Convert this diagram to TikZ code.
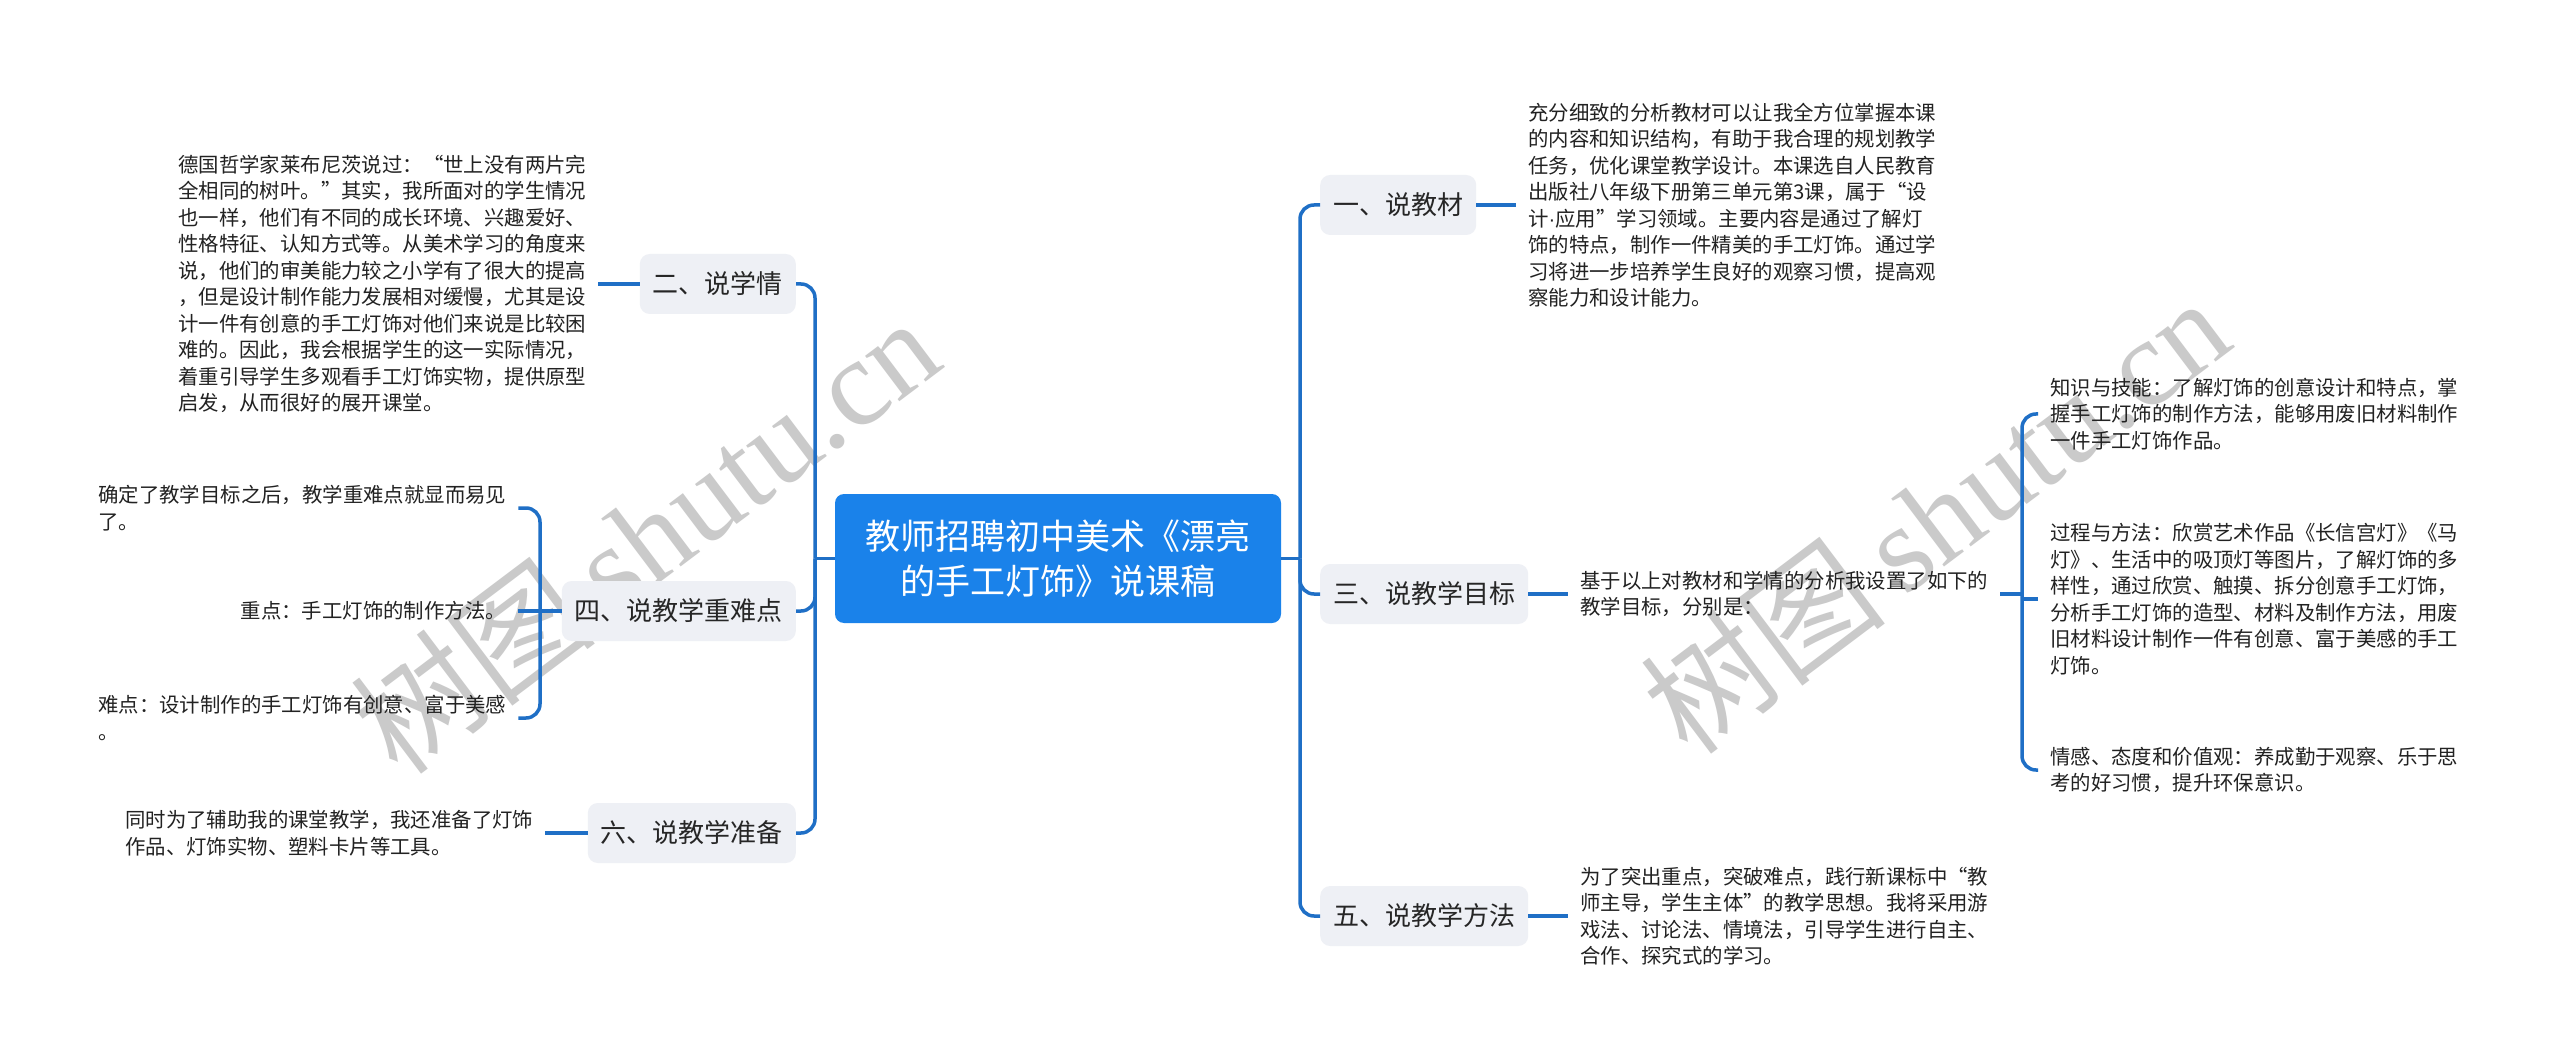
\documentclass[tikz,border=0pt]{standalone}
\usepackage{fontspec}
\setmainfont{Noto Sans CJK SC}
\newfontfamily\wmserif{Liberation Serif}
\newfontfamily\latinfont{Liberation Sans}
\usetikzlibrary{calc}
\definecolor{lineblue}{HTML}{1F6FC6}
\definecolor{rootblue}{HTML}{1A82EA}
\definecolor{boxgray}{HTML}{EEF0F5}
\definecolor{txt}{HTML}{222222}
\definecolor{wmgray}{HTML}{CACACA}
\begin{document}
\begin{tikzpicture}[x=1pt,y=-1pt,
 conn/.style={draw=lineblue,line width=3.5pt,rounded corners=14pt},
 rootbox/.style={fill=rootblue,rounded corners=9pt,text=white,minimum width=446pt,minimum height=129pt,align=center,font=\fontsize{35}{45}\selectfont,inner sep=0pt},
 topic/.style={fill=boxgray,rounded corners=10pt,text=black!85,minimum height=60pt,inner xsep=13pt,inner ysep=0pt,font=\fontsize{26}{30}\selectfont},
 leaf/.style={align=left,inner xsep=12pt,inner ysep=2pt,text=txt,font=\fontsize{20.4}{26.5}\selectfont},
 wm/.style={rotate=37,text=wmgray,font=\fontsize{124}{130}\selectfont}]
\useasboundingbox (0,0) rectangle (2560,1064);
\fill[white] (0,0) rectangle (2560,1064);

% watermarks (background)
\node[wm] (wm1) at (645,535) {树图\,{\wmserif shutu.cn}};
\node[wm] (wm2) at (1935,515) {树图\,{\wmserif shutu.cn}};

% root and topics
\node[rootbox] (root) at (1058,558.5) {教师招聘初中美术《漂亮\\的手工灯饰》说课稿};
\node[topic,anchor=west] (n1) at (1320,205) {一、说教材};
\node[topic,anchor=west] (n3) at (1320,594) {三、说教学目标};
\node[topic,anchor=west] (n5) at (1320,916) {五、说教学方法};
\node[topic,anchor=east] (n2) at (796,284) {二、说学情};
\node[topic,anchor=east] (n4) at (796,611) {四、说教学重难点};
\node[topic,anchor=east] (n6) at (796,833) {六、说教学准备};

\coordinate (rj) at (1300,558.5);
\coordinate (lj) at (815,558.5);
\draw[conn] (root.east) -- (rj);
\draw[conn] (rj) |- (n1.west);
\draw[conn] (rj) |- (n3.west);
\draw[conn] (rj) |- (n5.west);
\draw[conn] (root.west) -- (lj);
\draw[conn] (lj) |- (n2.east);
\draw[conn] (lj) |- (n4.east);
\draw[conn] (lj) |- (n6.east);

% leaves right
\node[leaf,anchor=west] (t1) at (1516,205) {充分细致的分析教材可以让我全方位掌握本课\\的内容和知识结构，有助于我合理的规划教学\\任务，优化课堂教学设计。本课选自人民教育\\出版社八年级下册第三单元第3课，属于“设\\计{\latinfont ·}应用”学习领域。主要内容是通过了解灯\\饰的特点，制作一件精美的手工灯饰。通过学\\习将进一步培养学生良好的观察习惯，提高观\\察能力和设计能力。};
\draw[conn] (n1.east) -- (t1.west);

\node[leaf,anchor=west] (t3) at (1568,594) {基于以上对教材和学情的分析我设置了如下的\\教学目标，分别是：};
\draw[conn] (n3.east) -- (t3.west);

\node[leaf,anchor=west] (t3a) at (2038,414) {知识与技能：了解灯饰的创意设计和特点，掌\\握手工灯饰的制作方法，能够用废旧材料制作\\一件手工灯饰作品。};
\node[leaf,anchor=west] (t3b) at (2038,599) {过程与方法：欣赏艺术作品《长信宫灯》《马\\灯》、生活中的吸顶灯等图片，了解灯饰的多\\样性，通过欣赏、触摸、拆分创意手工灯饰，\\分析手工灯饰的造型、材料及制作方法，用废\\旧材料设计制作一件有创意、富于美感的手工\\灯饰。};
\node[leaf,anchor=west] (t3c) at (2038,770) {情感、态度和价值观：养成勤于观察、乐于思\\考的好习惯，提升环保意识。};
\coordinate (j3) at (2022,594);
\draw[conn] (t3.east) -- (j3);
\draw[conn] (j3) |- (t3a.west);
\draw[conn] (j3) |- (t3c.west);
\draw[conn,rounded corners=0pt] (j3 |- t3b.west) -- (t3b.west);

\node[leaf,anchor=west] (t5) at (1568,916) {为了突出重点，突破难点，践行新课标中“教\\师主导，学生主体”的教学思想。我将采用游\\戏法、讨论法、情境法，引导学生进行自主、\\合作、探究式的学习。};
\draw[conn] (n5.east) -- (t5.west);

% leaves left
\node[leaf,anchor=west] (t2) at (166,284) {德国哲学家莱布尼茨说过：“世上没有两片完\\全相同的树叶。”其实，我所面对的学生情况\\也一样，他们有不同的成长环境、兴趣爱好、\\性格特征、认知方式等。从美术学习的角度来\\说，他们的审美能力较之小学有了很大的提高\\，但是设计制作能力发展相对缓慢，尤其是设\\计一件有创意的手工灯饰对他们来说是比较困\\难的。因此，我会根据学生的这一实际情况，\\着重引导学生多观看手工灯饰实物，提供原型\\启发，从而很好的展开课堂。};
\draw[conn] (t2.east) -- (n2.west);

\node[leaf,anchor=west] (t4a) at (86,508) {确定了教学目标之后，教学重难点就显而易见\\了。};
\node[leaf,anchor=east] (t4b) at (518,611) {重点：手工灯饰的制作方法。};
\node[leaf,anchor=west] (t4c) at (86,718) {难点：设计制作的手工灯饰有创意、富于美感\\。};
\coordinate (j4) at (540,611);
\draw[conn] (n4.west) -- (j4);
\draw[conn] (j4) |- (t4a.east);
\draw[conn] (j4) |- (t4c.east);
\draw[conn] (j4) -- (t4b.east);

\node[leaf,anchor=west] (t6) at (113,833) {同时为了辅助我的课堂教学，我还准备了灯饰\\作品、灯饰实物、塑料卡片等工具。};
\draw[conn] (t6.east) -- (n6.west);
\end{tikzpicture}
\end{document}
